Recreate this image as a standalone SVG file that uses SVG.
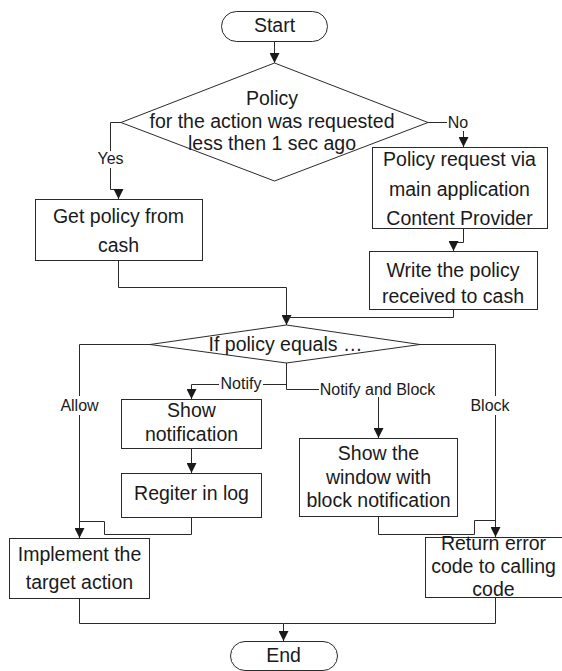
<svg xmlns="http://www.w3.org/2000/svg" width="562" height="671" viewBox="0 0 562 671">
<style>
.sh{fill:#fff;stroke:#2a2a2a;stroke-width:1}
.t{font-family:"Liberation Sans",Arial,sans-serif;font-size:19.5px;fill:#1a1a1a;text-anchor:middle}
.l{font-family:"Liberation Sans",Arial,sans-serif;font-size:16px;fill:#1a1a1a;text-anchor:middle}
.c{fill:none;stroke:#2a2a2a;stroke-width:1}
.lb{fill:#fff}
</style>
<defs>
<marker id="a" viewBox="0 0 10 10" refX="10" refY="5" markerWidth="10" markerHeight="10" markerUnits="userSpaceOnUse" orient="auto">
<path d="M0,0 L10,5 L0,10 z" fill="#1a1a1a"/>
</marker>
</defs>
<rect width="562" height="671" fill="#fff"/>
<g id="connectors">
<polyline class="c" points="274.5,41 274.5,63" marker-end="url(#a)"/>
<polyline class="c" points="121,122.5 110.5,122.5 110.5,189.5 118.5,189.5 118.5,199" marker-end="url(#a)"/>
<polyline class="c" points="428,122.5 463.5,122.5 463.5,147" marker-end="url(#a)"/>
<polyline class="c" points="118.5,261 118.5,287.5 286.5,287.5 286.5,325" marker-end="url(#a)"/>
<polyline class="c" points="463.5,229 463.5,242.5 453.5,242.5 453.5,251" marker-end="url(#a)"/>
<polyline class="c" points="453.5,310 453.5,317.5 286.5,317.5"/>
<polyline class="c" points="150,344.5 79.5,344.5 79.5,538" marker-end="url(#a)"/>
<polyline class="c" points="420,344.5 495.5,344.5 495.5,537" marker-end="url(#a)"/>
<polyline class="c" points="286.5,363 286.5,384.5 191.5,384.5 191.5,399" marker-end="url(#a)"/>
<polyline class="c" points="286.5,384 286.5,389.5 378.5,389.5 378.5,438" marker-end="url(#a)"/>
<polyline class="c" points="191.5,448 191.5,473" marker-end="url(#a)"/>
<polyline class="c" points="191.5,517 191.5,534.5 104.5,534.5 104.5,521.5 79.5,521.5"/>
<polyline class="c" points="378.5,516 378.5,534.5 474.5,534.5 474.5,520.5 495.5,520.5"/>
<polyline class="c" points="79.5,598 79.5,623.5 283.5,623.5 283.5,641" marker-end="url(#a)"/>
<polyline class="c" points="495.5,597 495.5,623.5 283.5,623.5"/>
<rect class="lb" x="94" y="151" width="33" height="17"/>
<text class="l" x="110.5" y="164">Yes</text>
<rect class="lb" x="447" y="114" width="22" height="17"/>
<text class="l" x="458" y="128">No</text>
<rect class="lb" x="219" y="376" width="44" height="17"/>
<text class="l" x="241" y="389">Notify</text>
<rect class="lb" x="319" y="380" width="117" height="17"/>
<text class="l" x="377.5" y="395">Notify and Block</text>
<rect class="lb" x="59" y="396" width="41" height="19"/>
<text class="l" x="79.5" y="411">Allow</text>
<rect class="lb" x="474" y="396" width="33" height="19"/>
<text class="l" x="490" y="411">Block</text>
</g>
<g id="start">
<rect class="sh" x="221.5" y="11.5" width="106" height="30" rx="15"/>
<text class="t" x="274.5" y="32">Start</text>
</g>
<g id="decision1">
<polygon class="sh" points="274.5,63 428,122.5 274.5,181 121,122.5"/>
<text class="t" x="272" y="105">Policy</text>
<text class="t" x="272" y="128">for the action was requested</text>
<text class="t" x="272" y="150">less then 1 sec ago</text>
</g>
<g id="get-policy">
<rect class="sh" x="35.5" y="199.5" width="167" height="61"/>
<text class="t" x="118.5" y="223">Get policy from</text>
<text class="t" x="118.5" y="252">cash</text>
</g>
<g id="policy-request">
<rect class="sh" x="372.5" y="147.5" width="175" height="81"/>
<text class="t" x="459.5" y="166">Policy request via</text>
<text class="t" x="459.5" y="196">main application</text>
<text class="t" x="459.5" y="225">Content Provider</text>
</g>
<g id="write-policy">
<rect class="sh" x="369.5" y="251.5" width="168" height="58"/>
<text class="t" x="453" y="277">Write the policy</text>
<text class="t" x="453" y="303">received to cash</text>
</g>
<g id="decision2">
<polygon class="sh" points="286.5,325 420,344.5 286.5,363 150,344.5"/>
<text class="t" x="285.5" y="351">If policy equals …</text>
</g>
<g id="show-notification">
<rect class="sh" x="121.5" y="399.5" width="140" height="49"/>
<text class="t" x="191.5" y="417">Show</text>
<text class="t" x="191.5" y="441">notification</text>
</g>
<g id="register-log">
<rect class="sh" x="121.5" y="473.5" width="140" height="44"/>
<text class="t" x="191.5" y="500">Regiter in log</text>
</g>
<g id="show-window">
<rect class="sh" x="299.5" y="438.5" width="158" height="78"/>
<text class="t" x="378.5" y="460">Show the</text>
<text class="t" x="378.5" y="484">window with</text>
<text class="t" x="378.5" y="507">block notification</text>
</g>
<g id="implement">
<rect class="sh" x="9.5" y="538.5" width="140" height="60"/>
<text class="t" x="79.5" y="561">Implement the</text>
<text class="t" x="79.5" y="589">target action</text>
</g>
<g id="return-error">
<rect class="sh" x="425.5" y="537.5" width="140" height="60"/>
<text class="t" x="493.5" y="550">Return error</text>
<text class="t" x="493.5" y="573">code to calling</text>
<text class="t" x="493.5" y="596">code</text>
</g>
<g id="end">
<rect class="sh" x="230.5" y="641.5" width="107" height="29" rx="14.5"/>
<text class="t" x="283.5" y="662">End</text>
</g>
</svg>
